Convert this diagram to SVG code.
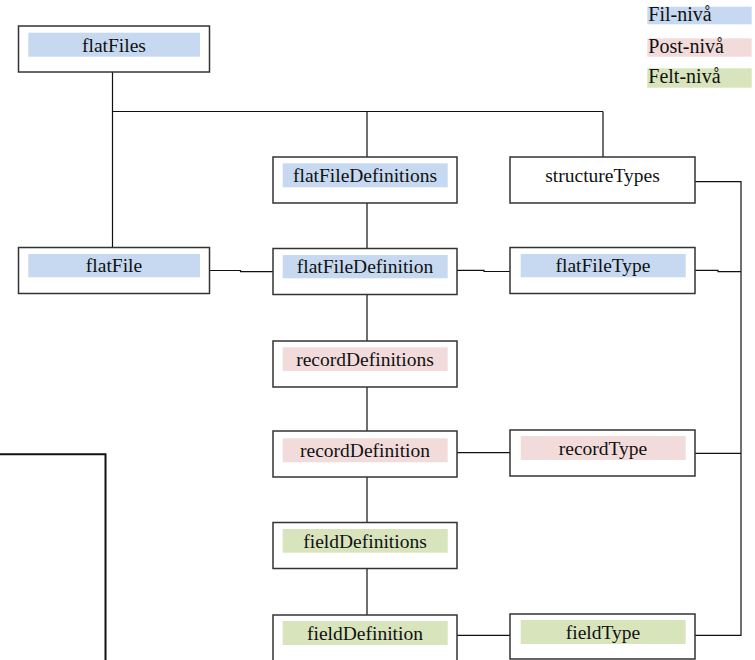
<svg xmlns="http://www.w3.org/2000/svg" width="755" height="660" viewBox="0 0 755 660">
<style>
.box{fill:#fff;stroke:#333;stroke-width:1.5}
.fil{fill:#c6d9f0}
.post{fill:#f2dcdb}
.felt{fill:#d7e4bc}
.t{font-family:"Liberation Serif","Times New Roman",serif;font-size:19.5px;fill:#111;text-anchor:middle}
.lg{font-family:"Liberation Serif","Times New Roman",serif;font-size:20px;fill:#111}
.c{fill:none;stroke:#111;stroke-width:1.2}
</style>
<rect width="755" height="660" fill="#fff"/>
<g id="connectors">
<path class="c" d="M112.5 72V247.5M112.5 111.5H603M367 111.5V157M603 111.5V157"/>
<path class="c" d="M367 203V248.5M367 294.5V341M367 387V431M367 477V522.5M367 568.5V615"/>
<path class="c" d="M209.5 270.5H240.5V271.7H273"/>
<path class="c" d="M457 270.3H484V271.5H510"/>
<path class="c" d="M695 181.7H741V635.3H695"/>
<path class="c" d="M695 270.3H718V271.7H741"/>
<path class="c" d="M457 452.7H510M695 453.3H741"/>
<path class="c" d="M457 635.3H510"/>
<path fill="none" stroke="#111" stroke-width="2" d="M0 454.3H105.5V660"/>
</g>
<g id="flatFiles"><rect class="box" x="18.5" y="26" width="191" height="46"/><rect class="fil" x="28.3" y="32.7" width="171.7" height="24"/><text class="t" x="114" y="51.5">flatFiles</text></g>
<g id="flatFileDefinitions"><rect class="box" x="273" y="157" width="184" height="46"/><rect class="fil" x="282.7" y="163.3" width="165" height="24"/><text class="t" x="365" y="181.7">flatFileDefinitions</text></g>
<g id="structureTypes"><rect class="box" x="510" y="157" width="185" height="46"/><text class="t" x="602.5" y="181.7">structureTypes</text></g>
<g id="flatFile"><rect class="box" x="18.5" y="247.5" width="191" height="46"/><rect class="fil" x="28.3" y="254" width="171.7" height="23.3"/><text class="t" x="114" y="272">flatFile</text></g>
<g id="flatFileDefinition"><rect class="box" x="273" y="248.5" width="184" height="46"/><rect class="fil" x="282.7" y="255" width="165" height="23.3"/><text class="t" x="365" y="273">flatFileDefinition</text></g>
<g id="flatFileType"><rect class="box" x="510" y="247.5" width="185" height="46"/><rect class="fil" x="520.7" y="254" width="165" height="23.3"/><text class="t" x="603" y="272">flatFileType</text></g>
<g id="recordDefinitions"><rect class="box" x="273" y="341" width="184" height="46"/><rect class="post" x="282.7" y="347.3" width="165" height="23.7"/><text class="t" x="365" y="365.5">recordDefinitions</text></g>
<g id="recordDefinition"><rect class="box" x="273" y="431" width="184" height="46"/><rect class="post" x="282.7" y="438.3" width="165" height="24"/><text class="t" x="365" y="456.5">recordDefinition</text></g>
<g id="recordType"><rect class="box" x="510" y="430" width="185" height="46"/><rect class="post" x="520.7" y="436" width="165" height="24"/><text class="t" x="603" y="454.5">recordType</text></g>
<g id="fieldDefinitions"><rect class="box" x="273" y="522.5" width="184" height="46"/><rect class="felt" x="282.7" y="529" width="165" height="23.7"/><text class="t" x="365" y="547.5">fieldDefinitions</text></g>
<g id="fieldDefinition"><rect class="box" x="273" y="615" width="184" height="47"/><rect class="felt" x="282.7" y="621" width="165" height="24"/><text class="t" x="365" y="639.5">fieldDefinition</text></g>
<g id="fieldType"><rect class="box" x="510" y="614" width="185" height="45"/><rect class="felt" x="520.7" y="620" width="165" height="24"/><text class="t" x="603" y="638.5">fieldType</text></g>
<g id="legend">
<rect class="fil" x="647.3" y="6.7" width="104.4" height="17.6"/><text class="lg" x="648.3" y="21">Fil-nivå</text>
<rect class="post" x="647.3" y="38.3" width="104.4" height="18.4"/><text class="lg" x="648.3" y="53">Post-nivå</text>
<rect class="felt" x="647.3" y="68.3" width="104.4" height="19.4"/><text class="lg" x="648.3" y="83">Felt-nivå</text>
</g>
</svg>
